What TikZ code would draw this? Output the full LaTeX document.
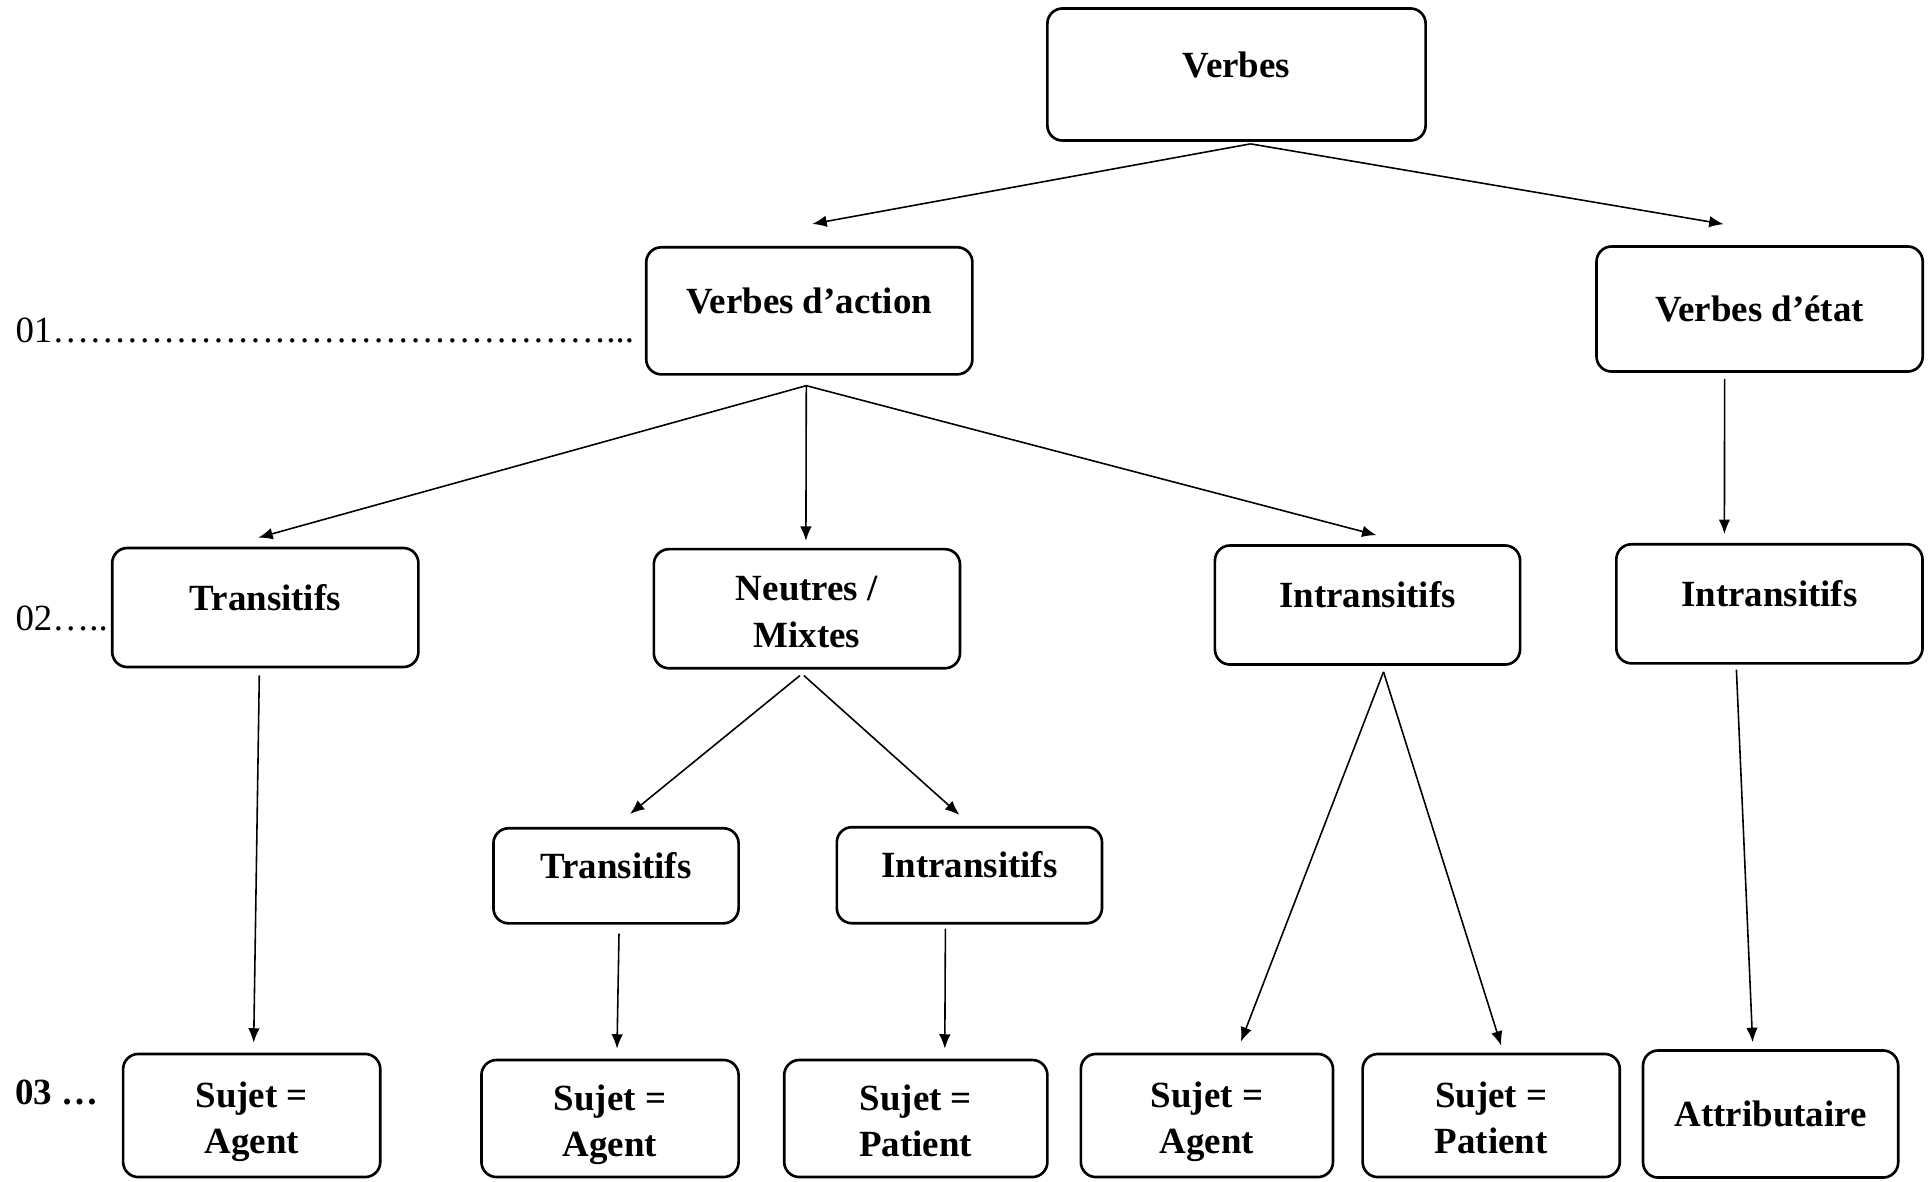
\documentclass[tikz,border=0pt]{standalone}
\usepackage{fontspec}
\setmainfont{Liberation Serif}
\usetikzlibrary{arrows.meta,calc}
\tikzset{
  box/.style={draw,line width=0.75pt,rounded corners=4.3pt,align=center,inner sep=1pt,
              font=\fontsize{10.5}{13.3}\selectfont\bfseries},
  raised/.style={text height=7.2pt,text depth=5.7pt},
  twoline/.style={text height=22pt,text depth=0.2pt},
  lvl/.style={anchor=base west,inner sep=0pt,font=\fontsize{10.5}{12}\selectfont},
  edge/.style={-{Latex[length=4.1pt,width=3.3pt]},line width=0.45pt},
}
\begin{document}
\begin{tikzpicture}[x=0.01cm,y=-0.01cm]
  \useasboundingbox (0,0) rectangle (1930,1181);
  \node[box,raised,minimum width=37.8mm,minimum height=13.2mm] (verbes) at (1236.5,74.5) {Verbes};
  \node[box,raised,minimum width=32.6mm,minimum height=12.7mm] (action) at (809.3,310.8) {Verbes d’action};
  \node[box,minimum width=32.6mm,minimum height=12.5mm] (etat) at (1759.6,309) {Verbes d’état};
  \node[box,raised,minimum width=30.6mm,minimum height=11.9mm] (trans) at (265.3,607.5) {Transitifs};
  \node[box,twoline,minimum width=30.6mm,minimum height=11.9mm] (neutres) at (806.9,608.7) {Neutres /\\Mixtes};
  \node[box,raised,minimum width=30.5mm,minimum height=11.9mm] (intrans) at (1367.5,605) {Intransitifs};
  \node[box,raised,minimum width=30.6mm,minimum height=11.9mm] (intransE) at (1769.4,603.8) {Intransitifs};
  \node[box,raised,minimum width=24.5mm,minimum height=9.5mm] (subtrans) at (616,875.8) {Transitifs};
  \node[box,raised,minimum width=26.5mm,minimum height=9.6mm] (subintrans) at (969.4,875.2) {Intransitifs};
  \node[box,twoline,minimum width=25.7mm,minimum height=12.3mm] (agentA) at (251.7,1115.5) {Sujet =\\Agent};
  \node[box,twoline,minimum width=25.7mm,minimum height=11.7mm] (agentB) at (610,1118.5) {Sujet =\\Agent};
  \node[box,twoline,minimum width=26.3mm,minimum height=11.7mm] (patientB) at (915.8,1118.5) {Sujet =\\Patient};
  \node[box,twoline,minimum width=25.2mm,minimum height=12.3mm] (agentC) at (1206.9,1115.5) {Sujet =\\Agent};
  \node[box,twoline,minimum width=25.7mm,minimum height=12.3mm] (patientC) at (1491.2,1115.5) {Sujet =\\Patient};
  \node[box,minimum width=25.5mm,minimum height=12.7mm] (attrib) at (1770.6,1114) {Attributaire};
  \node[lvl] (lvlA) at (14.8,342) {01\foreach\k in {1,...,15}{…}...};
  \node[lvl] (lvlB) at (14.8,630) {02…..};
  \node[lvl,font=\fontsize{10.5}{12}\selectfont\bfseries] (lvlC) at (14.8,1104) {03 …};
  \draw[edge] ($(verbes.south)+(14,2)$) -- ($(action.north)+(3,-22)$);
  \draw[edge] ($(verbes.south)+(14,2)$) -- ($(etat.north)+(-36,-21)$);
  \draw[edge] ($(action.south)+(-3,10)$) -- ($(trans.north)+(-7,-9)$);
  \draw[edge] ($(action.south)+(-3,10)$) -- ($(neutres.north)+(-1,-7)$);
  \draw[edge] ($(action.south)+(-3,10)$) -- ($(intrans.north)+(9,-9)$);
  \draw[edge] ($(etat.south)+(-35,6)$) -- ($(intransE.north)+(-45,-9)$);
  \draw[edge] ($(trans.south)+(-6,7)$) -- ($(agentA.north)+(2,-10)$);
  \draw[edge] ($(neutres.south)+(-7,6)$) -- ($(subtrans.north)+(14,-13)$);
  \draw[edge] ($(neutres.south)+(-3,6)$) -- ($(subintrans.north)+(-10,-11)$);
  \draw[edge] ($(intrans.south)+(16,6)$) -- ($(agentC.north)+(34,-11)$);
  \draw[edge] ($(intrans.south)+(16,6)$) -- ($(patientC.north)+(10,-7)$);
  \draw[edge] ($(intransE.south)+(-33,5)$) -- ($(attrib.north)+(-18,-7)$);
  \draw[edge] ($(subtrans.south)+(3,9)$) -- ($(agentB.north)+(7,-10)$);
  \draw[edge] ($(subintrans.south)+(-24,4)$) -- ($(patientB.north)+(29,-10)$);
\end{tikzpicture}
\end{document}
